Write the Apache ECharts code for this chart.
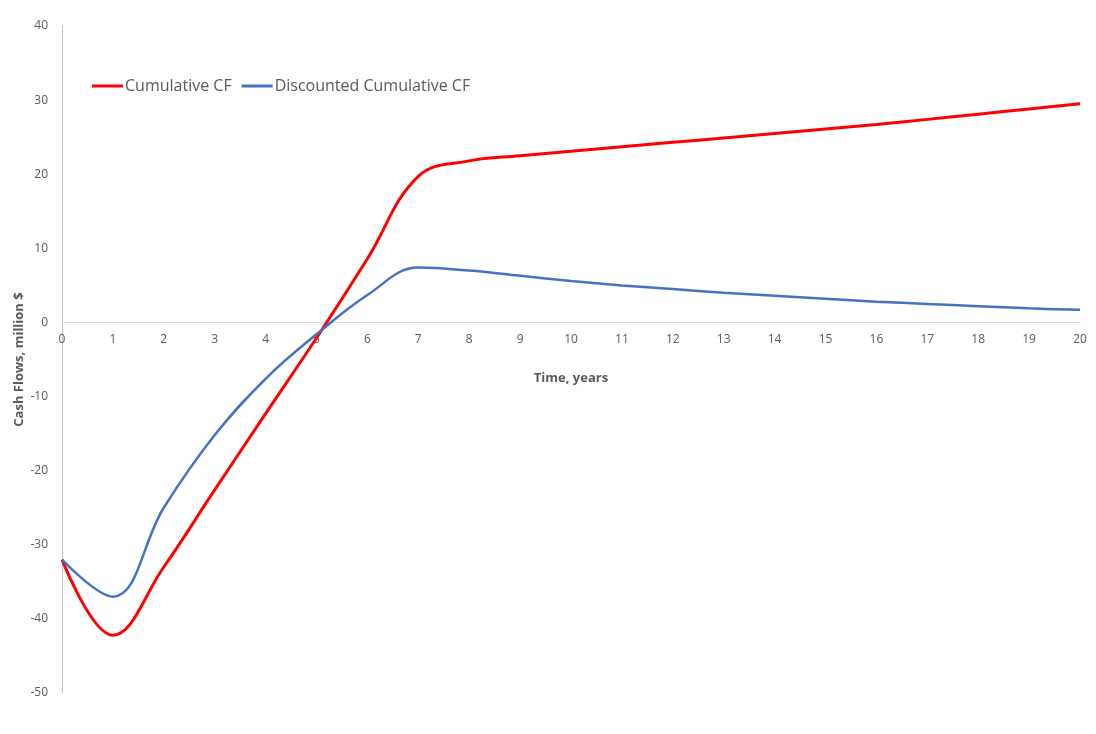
<!DOCTYPE html>
<html>
<head>
<meta charset="utf-8">
<script src="https://cdn.jsdelivr.net/npm/echarts@6/dist/echarts.min.js"></script>
<style>
  html, body { margin: 0; padding: 0; background: #fff; }
  #chart { width: 1096px; height: 734px; }
</style>
</head>
<body>
<div id="chart"></div>
<script>
// Project timeline, years
const years = [0, 1, 2, 3, 4, 5, 6, 7, 8, 9, 10, 11, 12, 13, 14, 15, 16, 17, 18, 19, 20];

// Cumulative cash flow, million $
const cumulativeCF = [-32, -42.2, -33, -22.6, -12.3, -2.1, 8.6, 19.7, 21.8, 22.5, 23.1, 23.7, 24.3, 24.9, 25.5, 26.1, 26.7, 27.4, 28.1, 28.8, 29.5];

// Discounted cumulative cash flow, million $
const discountedCF = [-32, -37, -25, -15.2, -7.6, -1.6, 3.7, 7.4, 7.0, 6.3, 5.6, 5.0, 4.5, 4.0, 3.6, 3.2, 2.8, 2.5, 2.2, 1.9, 1.7];

// Value axis range
const yMin = -50, yMax = 40, yStep = 10;

const seriesNames = ['Cumulative CF', 'Discounted Cumulative CF'];
const seriesColors = ['#ff0000', '#4472c4'];

const font = '"Open Sans", sans-serif';
const textColor = '#595959';

const pair = (xs, ys) => xs.map((x, i) => [x, ys[i]]);

// Plot box
const gridTop = 26, gridBottom = 41, chartH = 734;
const plotH = chartH - gridTop - gridBottom;
// Lift the time axis up to the zero line
const zeroOffset = -plotH * (0 - yMin) / (yMax - yMin);

const chart = echarts.init(document.getElementById('chart'));
chart.setOption({
  animation: false,
  textStyle: { fontFamily: font },
  grid: { left: 62, right: 16, top: gridTop, bottom: gridBottom, containLabel: false, outerBoundsMode: 'none' },
  legend: {
    left: 92,
    top: 78,
    padding: 0,
    itemWidth: 31,
    itemHeight: 3,
    itemGap: 10,
    icon: 'rect',
    textStyle: { fontSize: 16, color: textColor, fontFamily: font, padding: [0, 0, 0, -3] },
    data: seriesNames
  },
  xAxis: {
    type: 'value',
    position: 'bottom',
    offset: zeroOffset,
    min: 0,
    max: 20,
    interval: 1,
    name: 'Time, years',
    nameLocation: 'middle',
    nameGap: 49,
    nameMoveOverlap: false,
    nameTextStyle: { fontWeight: 'bold', fontSize: 13, color: textColor },
    axisLine: { onZero: false, lineStyle: { color: '#d9d9d9', width: 1 } },
    axisTick: { show: false },
    splitLine: { show: false },
    axisLabel: { fontSize: 12, color: textColor, margin: 11 }
  },
  yAxis: {
    type: 'value',
    min: yMin,
    max: yMax,
    interval: yStep,
    name: 'Cash Flows, million $',
    nameLocation: 'middle',
    nameGap: 36,
    nameRotate: 90,
    nameMoveOverlap: false,
    nameTextStyle: { fontWeight: 'bold', fontSize: 13, color: textColor },
    axisLine: { show: true, lineStyle: { color: '#bfbfbf', width: 1 } },
    axisTick: { show: false },
    splitLine: { show: false },
    axisLabel: { fontSize: 12, color: textColor, margin: 14 }
  },
  series: [
    {
      name: seriesNames[0],
      type: 'line',
      smooth: 0.4,
      showSymbol: false,
      data: pair(years, cumulativeCF),
      itemStyle: { color: seriesColors[0] },
      lineStyle: { color: seriesColors[0], width: 3 }
    },
    {
      name: seriesNames[1],
      type: 'line',
      smooth: 0.4,
      showSymbol: false,
      data: pair(years, discountedCF),
      itemStyle: { color: seriesColors[1] },
      lineStyle: { color: seriesColors[1], width: 2.5 }
    }
  ]
});
</script>
</body>
</html>
